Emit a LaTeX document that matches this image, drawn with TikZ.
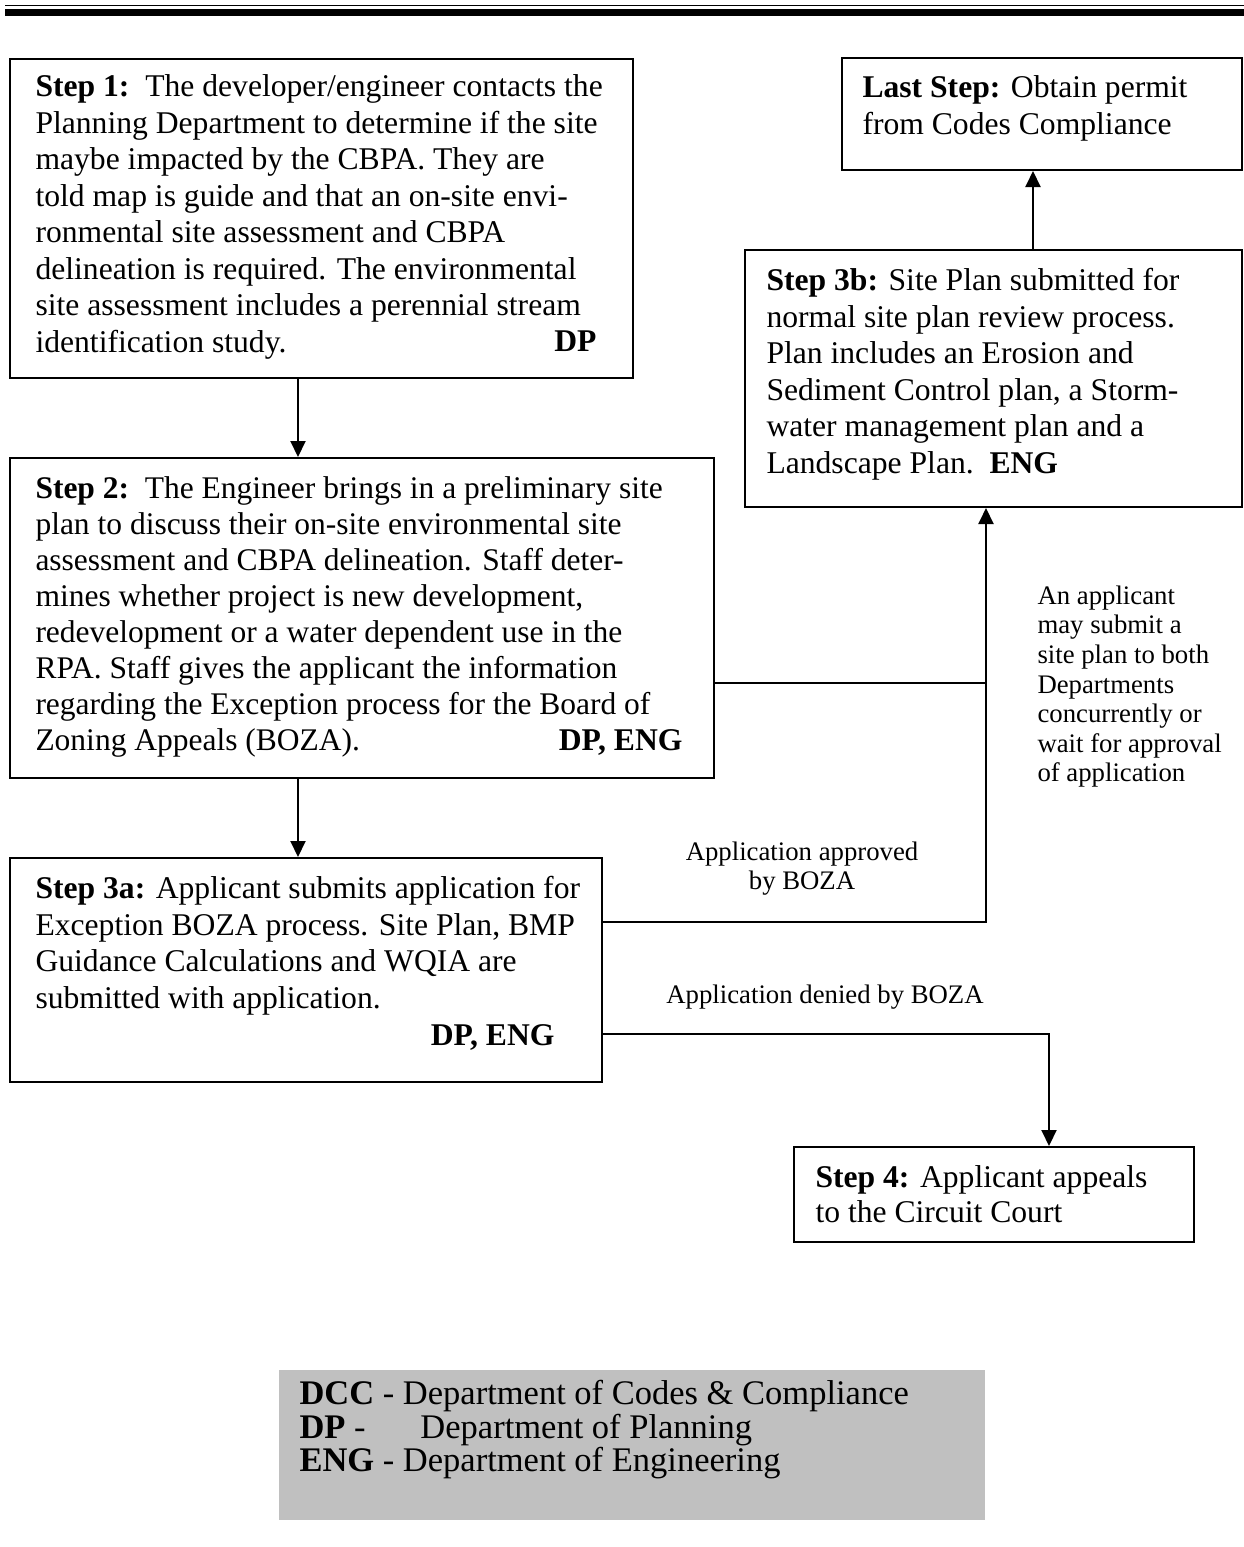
\documentclass[tikz,border=0pt]{standalone}
\usepackage{fontspec}
\setmainfont{Liberation Serif}
\usetikzlibrary{arrows.meta,fit,calc}

% legend lines are set tighter than the font size would normally allow
\newcommand\legendfont{\fontsize{13.8}{13.4}\selectfont\lineskiplimit-20pt\relax}

\begin{document}
\begin{tikzpicture}[x=0.4pt,y=-0.4pt,
  box/.style={draw, line width=0.8pt, inner sep=0pt},
  txt/.style={anchor=north west, inner sep=0pt, align=left, font=\fontsize{12.65}{14.6}\selectfont},
  note/.style={inner sep=0pt, font=\fontsize{10.7}{11.84}\selectfont},
  tag/.style={anchor=base east, inner sep=0pt, font=\fontsize{12.65}{14.6}\selectfont\bfseries},
  link/.style={line width=0.8pt},
  arr/.style={link, -{Triangle[length=6.4pt,width=6pt]}}]

\useasboundingbox (0,0) rectangle (1244,1547);

% double rule along the top edge
\fill (5,4.7) rectangle (1244,6.3);
\fill (5,9) rectangle (1244,16);

% process boxes
\node[box, fit={(10,59) (633,378)}] (s1) {};
\node[box, fit={(10,458) (714,778)}] (s2) {};
\node[box, fit={(10,858) (602,1082)}] (s3a) {};
\node[box, fit={(745,250) (1242,507)}] (s3b) {};
\node[box, fit={(842,58) (1242,170)}] (last) {};
\node[box, fit={(794,1147) (1194,1242)}] (s4) {};

% box texts
\node[txt] (s1t) at (35,70.5) {\strut\textbf{Step 1:}\ \ The developer/engineer contacts the\\
Planning Department to determine if the site\\
maybe impacted by the CBPA.  They are\\
told map is guide and that an on-site envi-\\
ronmental site assessment and CBPA\\
delineation is required.  The environmental\\
site assessment includes a perennial stream\\
identification study.};
\node[tag] (s1g) at (597,351.5) {DP};

\node[txt, font=\fontsize{12.6}{14.4}\selectfont] (s2t) at (35,472.5) {\strut\textbf{Step 2:}\ \ The Engineer brings in a preliminary site\\
plan to discuss their on-site environmental site\\
assessment and CBPA delineation.  Staff deter-\\
mines whether project is new development,\\
redevelopment or a water dependent use in the\\
RPA. Staff gives the applicant the information\\
regarding the Exception process for the Board of\\
Zoning Appeals (BOZA).};
\node[tag] (s2g) at (683,750) {DP, ENG};

\node[txt] (s3at) at (35,872.5) {\strut\textbf{Step 3a:} Applicant submits application for\\
Exception BOZA process. Site Plan, BMP\\
Guidance Calculations and WQIA are\\
submitted with application.};
\node[tag] (s3ag) at (555,1045) {DP, ENG};

\node[txt] (s3bt) at (766,264.5) {\strut\textbf{Step 3b:} Site Plan submitted for\\
normal site plan review process.\\
Plan includes an Erosion and\\
Sediment Control plan, a Storm-\\
water management plan and a\\
Landscape Plan.\ \ \textbf{ENG}};

\node[txt] (lastt) at (862,71.5) {\strut\textbf{Last Step:} Obtain permit\\
from Codes Compliance};

\node[txt, font=\fontsize{12.65}{14}\selectfont] (s4t) at (815,1162) {\strut\textbf{Step 4:} Applicant appeals\\
to the Circuit Court};

% side notes
\node[note, anchor=north west, align=left] (conc) at (1037,583) {\strut An applicant\\
may submit a\\
site plan to both\\
Departments\\
concurrently or\\
wait for approval\\
of application};
\node[note, anchor=north, align=center] (appr) at (802,839) {\strut Application approved\\by BOZA};
\node[note, anchor=base] (deny) at (825,1003) {Application denied by BOZA};

% connectors
\coordinate (xa) at (298,0);
\coordinate (xb) at (1033,0);
\coordinate (xc) at (986,0);
\coordinate (xd) at (1049,0);
\coordinate (y2) at (0,683);
\coordinate (ya) at (0,922);
\coordinate (yd) at (0,1034);

\draw[arr] (s1.south -| xa) -- (s2.north -| xa);
\draw[arr] (s2.south -| xa) -- (s3a.north -| xa);
\draw[arr] (s3b.north -| xb) -- (last.south -| xb);
\draw[link] (s2.east |- y2) -- (xc |- y2);
\draw[arr] (s3a.east |- ya) -| (s3b.south -| xc);
\draw[arr] (s3a.east |- yd) -| (s4.north -| xd);

% legend of department abbreviations
\node[fill={rgb,255:red,192;green,192;blue,192}, inner sep=0pt, fit={(279,1370) (985,1520)}] (leg) {};
\node[txt, font=\legendfont] (legt) at (299,1380) {\strut\textbf{DCC} - Department of Codes \& Compliance\\
\makebox[48.4pt][l]{\textbf{DP} -}Department of Planning\\
\textbf{ENG} - Department of Engineering};

\end{tikzpicture}
\end{document}
